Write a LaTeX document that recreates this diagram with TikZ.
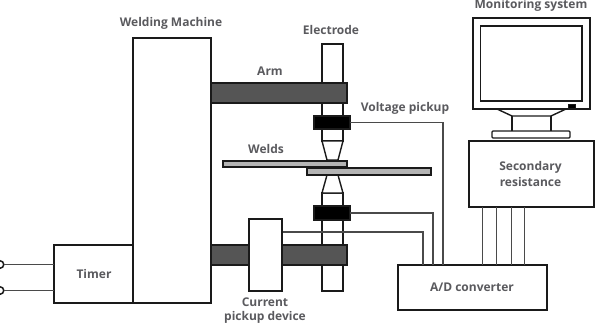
\documentclass[tikz,border=0pt]{standalone}
\usepackage{fontspec}
\setmainfont{Open Sans}
\definecolor{inkc}{HTML}{1A1A1A}
\definecolor{labelc}{HTML}{5A5A5E}
\definecolor{wirec}{HTML}{4A4A4A}
\definecolor{armc}{HTML}{555555}
\definecolor{platec}{HTML}{B4B4B4}
\tikzset{
  block/.style={draw=inkc,line width=1.7pt,fill=white,anchor=north west,inner sep=0pt,outer sep=0pt},
  sized/.style 2 args={minimum width=#1pt,minimum height=#2pt},
  armbar/.style={block,fill=armc},
  clamp/.style={block,fill=black},
  plate/.style={block,fill=platec,line width=1.5pt},
  wire/.style={draw=wirec,line width=1.2pt},
  thin outline/.style={draw=inkc,line width=1.4pt},
  caption/.style={text=labelc,font=\bfseries\fontsize{12}{14}\selectfont,inner sep=0pt,align=center},
  terminal/.style={circle,draw=inkc,line width=1.5pt,fill=white,minimum size=7.5pt,inner sep=0pt,outer sep=0pt}
}
\begin{document}
\begin{tikzpicture}[x=1pt,y=-1pt]
\useasboundingbox (0,0) rectangle (598,324);

% welding machine and timer
\node[block,sized={78}{265}] (machine) at (133,38) {};
\node[block,sized={79}{58}] (timer) at (54,245) {};
\node[caption] at (94,274) {Timer};
\node[terminal] (t1) at (0,264.5) {};
\node[terminal] (t2) at (0,290.5) {};
\draw[wire] (t1) -- (t1 -| timer.west);
\draw[wire] (t2) -- (t2 -| timer.west);

% electrode shafts and tips
\node[block,sized={21}{97}] (shaftA) at (322,44) {};
\node[block,sized={21}{98}] (shaftB) at (322,193) {};
\draw[thin outline,fill=white] (322,141) -- (327,160) -- (338,160) -- (343,141) -- cycle;
\draw[thin outline,fill=white] (327,175) -- (322,193) -- (343,193) -- (338,175) -- cycle;

% work pieces
\node[plate,sized={124}{6}] (weldA) at (223,161) {};
\node[plate,sized={124}{7}] (weldB) at (307,168) {};

% voltage and current sense wiring
\node[block,sized={149}{45}] (adc) at (398,265) {};
\coordinate (inV) at (443,265);
\coordinate (inU) at (433,265);
\coordinate (inI) at (423,265);
\node[clamp,sized={36}{13}] (clampA) at (314,116) {};
\node[clamp,sized={36}{14}] (clampB) at (314,206) {};
\coordinate (senseI) at (282,232);
\draw[wire] (clampA.east) -| (inV);
\draw[wire] (clampB.east) -| (inU);
\draw[wire] (senseI) -| (inI);

% arms and current pickup
\node[armbar,sized={136}{20}] (armA) at (211,83) {};
\node[armbar,sized={136}{20}] (armB) at (211,245) {};
\node[block,sized={33}{72}] (pickup) at (249,219) {};

% monitor
\draw[thin outline] (497,109) -- (512,116) -- (551,116) -- (566,109);
\draw[thin outline] (512,116) -- (512,131);
\draw[thin outline] (551,116) -- (551,131);
\node[block,line width=1.4pt,rounded corners=1pt,sized={78}{7}] (stand) at (492,131) {};
\node[block,line width=1.4pt,sized={117}{91}] (bezel) at (473,18) {};
\node[block,line width=1.4pt,sized={101.5}{75}] (screen) at (480.5,26) {};
\node[block,fill=black,line width=0pt,sized={7}{4}] (button) at (568,104) {};

% secondary resistance unit and its bus to the converter
\node[block,line width=2pt,sized={125}{66}] (secondary) at (469,141) {};
\foreach \busx in {482,496,511,524}{
  \coordinate (bus) at (\busx,0);
  \draw[wire,line width=0.9pt] (bus |- secondary.south) -- (bus |- adc.north);
}

% labels
\node[caption] at (171,23) {Welding Machine};
\node[caption] at (331,30) {Electrode};
\node[caption] at (270,71) {Arm};
\node[caption] at (405,108) {Voltage pickup};
\node[caption] at (266,149) {Welds};
\node[caption] at (265,302) {Current};
\node[caption] at (265,317) {pickup device};
\node[caption] at (472,287) {A/D converter};
\node[caption] at (530.5,167) {Secondary};
\node[caption] at (530.5,182) {resistance};
\node[caption] at (531,5) {Monitoring system};
\end{tikzpicture}
\end{document}
